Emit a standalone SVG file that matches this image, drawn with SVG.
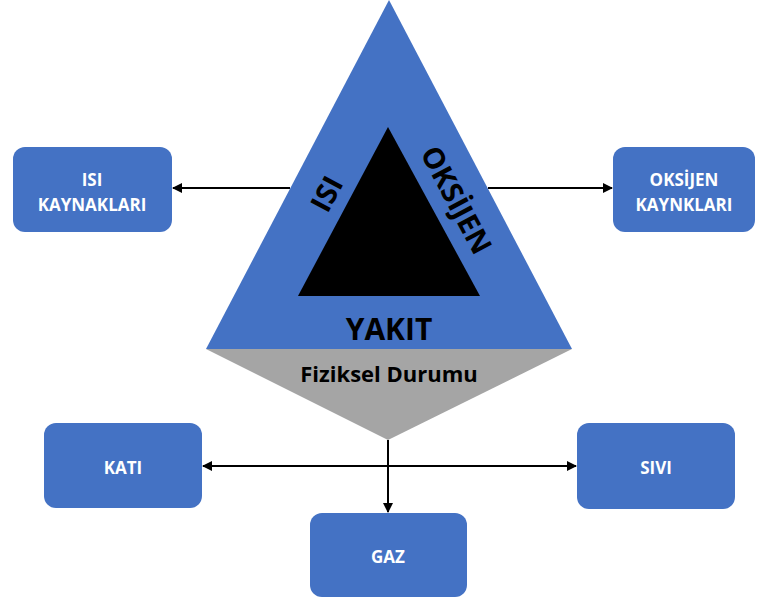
<svg xmlns="http://www.w3.org/2000/svg" width="762" height="603" viewBox="0 0 762 603">
<style>
.box{fill:#4472C4;}
.bt{fill:#fff;font-family:"Open Sans","Liberation Sans",sans-serif;font-weight:bold;font-size:17px;text-anchor:middle;}
.tt{fill:#000;font-family:"Open Sans","Liberation Sans",sans-serif;font-weight:bold;text-anchor:middle;}
.ln{stroke:#000;stroke-width:2;fill:none;}
</style>
<defs>
<marker id="ah" viewBox="0 0 10 10" refX="9" refY="5" markerWidth="5" markerHeight="5" orient="auto-start-reverse">
<path d="M0,0 L10,5 L0,10 z" fill="#000"/>
</marker>
</defs>
<rect width="762" height="603" fill="#fff"/>
<g id="connectors">
<line class="ln" x1="290" y1="188" x2="173" y2="188" marker-end="url(#ah)"/>
<line class="ln" x1="488" y1="188" x2="612" y2="188" marker-end="url(#ah)"/>
<line class="ln" x1="203" y1="466" x2="576" y2="466" marker-start="url(#ah)" marker-end="url(#ah)"/>
<line class="ln" x1="388" y1="440" x2="388" y2="512" marker-end="url(#ah)"/>
</g>
<g id="fire-triangle">
<polygon points="389,0 572,349 206,349" fill="#4472C4"/>
<polygon points="206,349 572,349 388,440" fill="#A5A5A5"/>
<polygon points="388,127 480,296 298,296" fill="#000"/>
<text class="tt" font-size="29" transform="translate(327,194) rotate(-62)" y="10">ISI</text>
<text class="tt" font-size="29" transform="translate(456,200) rotate(62)" y="10">OKSİJEN</text>
<text class="tt" font-size="30" x="389" y="340">YAKIT</text>
<text class="tt" font-size="22" x="389" y="382">Fiziksel Durumu</text>
</g>
<g id="isi-kaynaklari">
<rect class="box" x="13" y="147" width="159" height="85" rx="12"/>
<text class="bt" x="92" y="186">ISI</text>
<text class="bt" x="92" y="211">KAYNAKLARI</text>
</g>
<g id="oksijen-kaynaklari">
<rect class="box" x="613" y="147" width="142" height="85" rx="12"/>
<text class="bt" x="684" y="186">OKSİJEN</text>
<text class="bt" x="684" y="211">KAYNKLARI</text>
</g>
<g id="kati">
<rect class="box" x="44" y="423" width="158" height="85" rx="12"/>
<text class="bt" x="123" y="474">KATI</text>
</g>
<g id="sivi">
<rect class="box" x="577" y="423" width="158" height="86" rx="12"/>
<text class="bt" x="656" y="474">SIVI</text>
</g>
<g id="gaz">
<rect class="box" x="310" y="513" width="157" height="84" rx="12"/>
<text class="bt" x="388" y="563">GAZ</text>
</g>
</svg>
